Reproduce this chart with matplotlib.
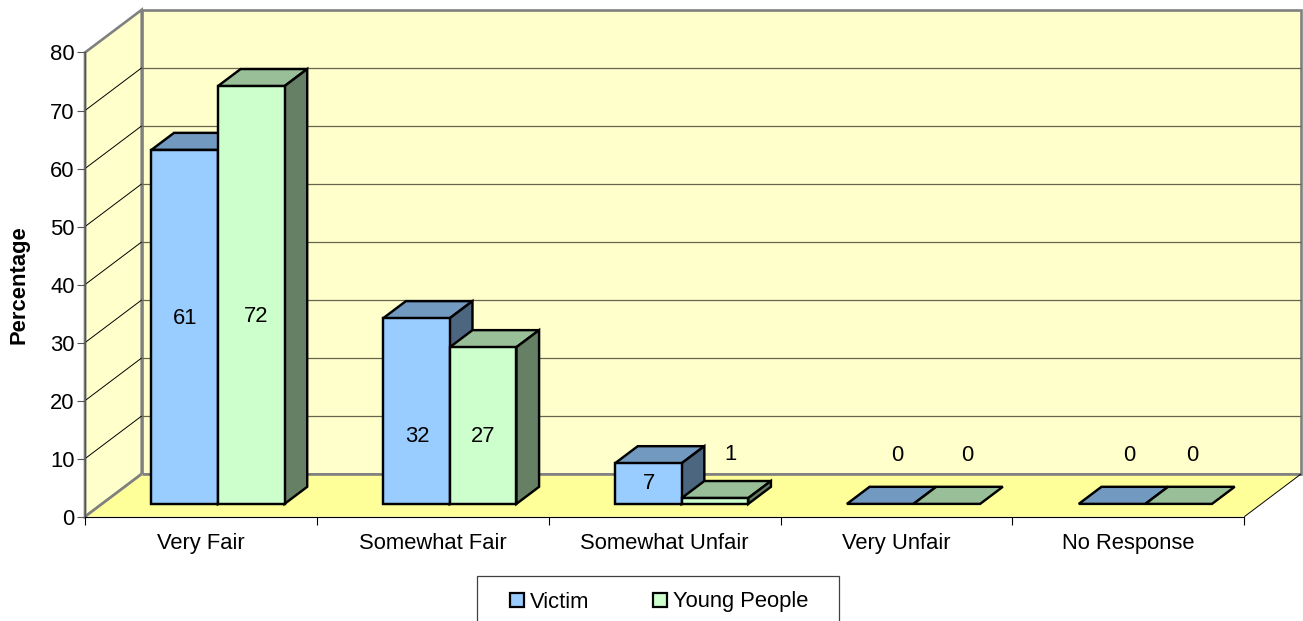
import matplotlib
matplotlib.use('Agg')
from matplotlib import pyplot as plt
from matplotlib.patches import Rectangle

plt.rcParams['font.family'] = ['Liberation Sans', 'DejaVu Sans']

### Data
categories = ['Very Fair', 'Somewhat Fair', 'Somewhat Unfair', 'Very Unfair', 'No Response']
series_names = ['Victim', 'Young People']
victim = [61, 32, 7, 0, 0]
young = [72, 27, 1, 0, 0]
y_ticks = [0, 10, 20, 30, 40, 50, 60, 70, 80]

# where Excel left the data labels (percent height, shift along x in categories)
victim_label_y = [34.6, 14.2, 6.2, 11, 11]
young_label_y = [34.9, 14.2, 11.2, 11, 11]
victim_label_dx = [0.003, 0.002, 0.004, 0.073, 0.072]
young_label_dx = [0.022, 0.0, 0.069, 0.090, 0.060]

### Style
W, H = 1303, 621
FONT = 15.8
front_cols = ['#99CCFF', '#CCFFCC']
top_cols = ['#7299BF', '#99BF99']
side_cols = ['#4C6680', '#668066']
WALL = '#FFFFCC'
FLOOR = '#FFFF99'
GREY = '#808080'

# axes covers the front plane of the 3D box
x0, x1, y0, y1 = 85, 1244.3, 516.7, 52.5
fig = plt.figure(figsize=(W / 100, H / 100), dpi=100, facecolor='white')
ax = fig.add_axes([x0 / W, (H - y0) / H, (x1 - x0) / W, (y0 - y1) / H])
ax.set_xlim(0, 5)
ax.set_ylim(0, 80)
ax.patch.set_visible(False)

# depth direction, in data units per full depth of the box
DX = 56.7 / ((x1 - x0) / 5)
DY = 42.7 / ((y0 - y1) / 80)


def proj(x, y, d):
    return x + d * DX, y + d * DY


def poly(pts, color, z, edge='black', lw=1.75):
    xs, ys = zip(*pts)
    ax.fill(xs, ys, facecolor=color, edgecolor=edge, linewidth=lw, zorder=z,
            clip_on=False, joinstyle='miter')


def line(a, b, color, lw, z):
    ax.plot([a[0], b[0]], [a[1], b[1]], color=color, linewidth=lw, zorder=z,
            clip_on=False, solid_capstyle='butt')


### Walls and floor
poly([proj(0, 0, 1), proj(5, 0, 1), proj(5, 80, 1), proj(0, 80, 1)], WALL, 1, GREY, 1.9)
poly([proj(0, 0, 0), proj(0, 0, 1), proj(0, 80, 1), proj(0, 80, 0)], WALL, 1.1, GREY, 1.9)
poly([proj(0, 0, 0), proj(5, 0, 0), proj(5, 0, 1), proj(0, 0, 1)], FLOOR, 1.2, 'none', 0)
line(proj(0, 0, 1), proj(5, 0, 1), GREY, 1.9, 1.3)
line(proj(0, 0, 0), proj(0, 0, 1), GREY, 1.9, 1.3)
line(proj(5, 0, 0), proj(5, 0, 1), 'black', 0.7, 1.3)

### Gridlines
for t in y_ticks[1:-1]:
    line(proj(0, t, 1), proj(5, t, 1), '#666650', 0.9, 1.4)
    line(proj(0, t, 0), proj(0, t, 1), 'black', 0.7, 1.4)

### Bars
bar_w = 66.6 / ((x1 - x0) / 5)
gap = (1 - 2 * bar_w) / 2
d_front = 0.30
d_back = 0.70
z = 5
for s, values in enumerate([victim, young]):
    for i, v in enumerate(values):
        l = i + gap + s * bar_w
        r = l + bar_w
        poly([proj(l, v, d_front), proj(r, v, d_front), proj(r, v, d_back), proj(l, v, d_back)],
             top_cols[s], z)
        if v > 0:
            poly([proj(r, 0, d_front), proj(r, 0, d_back), proj(r, v, d_back), proj(r, v, d_front)],
                 side_cols[s], z)
            poly([proj(l, 0, d_front), proj(r, 0, d_front), proj(r, v, d_front), proj(l, v, d_front)],
                 front_cols[s], z)
        z += 1

### Data labels
for s, (values, ly, ldx) in enumerate([(victim, victim_label_y, victim_label_dx),
                                       (young, young_label_y, young_label_dx)]):
    for i, v in enumerate(values):
        cx = proj(i + gap + (s + 0.5) * bar_w, 0, d_front)[0] + ldx[i]
        ax.text(cx, ly[i], str(v), ha='center', va='center_baseline', fontsize=FONT, color='black', zorder=30)

### Axes
ax.spines['top'].set_visible(False)
ax.spines['right'].set_visible(False)
ax.spines['left'].set_color('#555555')
ax.spines['left'].set_linewidth(1.0)
ax.spines['bottom'].set_linewidth(0.8)
ax.set_yticks(y_ticks)
ax.tick_params(axis='y', length=5.8, width=0.8, color='#555555', labelsize=FONT, pad=1.5)
ax.set_xticks(range(6))
ax.set_xticklabels([])
ax.tick_params(axis='x', which='major', length=6, width=0.8)
ax.set_xticks([i + 0.5 for i in range(5)], minor=True)
ax.set_xticklabels(categories, minor=True, fontsize=FONT)
ax.tick_params(axis='x', which='minor', length=0, pad=12)

fig.text(19 / W, 1 - 284.5 / H, 'Percentage', rotation=90, ha='center', va='center',
         fontsize=FONT, fontweight='bold')

### Legend, its box runs off the bottom of the image
def px_rect(x, y, w, h, fc, ec, lw):
    fig.add_artist(Rectangle((x / W, 1 - (y + h) / H), w / W, h / H, facecolor=fc, edgecolor=ec,
                             linewidth=lw, transform=fig.transFigure))


px_rect(477, 575.5, 362, 60, 'white', '#404040', 0.9)
for name, col, sx in zip(series_names, front_cols, [510, 653]):
    px_rect(sx, 593, 14, 14, col, 'black', 1.6)
    fig.text((sx + 20) / W, 1 - 602 / H, name, ha='left', va='center', fontsize=FONT)

plt.savefig('out.png', dpi=100)
